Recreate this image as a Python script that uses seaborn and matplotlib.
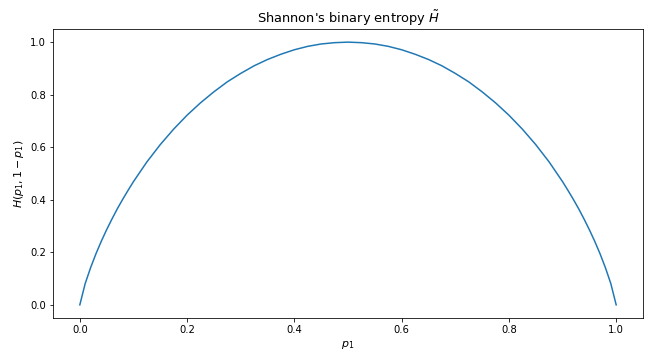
import matplotlib
matplotlib.use("Agg")
import matplotlib.pyplot as plt
import seaborn as sns
import pandas as pd

p1_left = [0.0, 0.01, 0.02, 0.03, 0.04, 0.05, 0.06, 0.07, 0.08, 0.09, 0.1, 0.125, 0.15, 0.175, 0.2,
           0.225, 0.25, 0.275, 0.3, 0.325, 0.35, 0.375, 0.4, 0.425, 0.45, 0.475]
h_left = [0.0, 0.081, 0.141, 0.194, 0.242, 0.286, 0.327, 0.366, 0.402, 0.436, 0.469, 0.544, 0.610, 0.669, 0.722,
          0.769, 0.811, 0.849, 0.881, 0.910, 0.934, 0.954, 0.971, 0.984, 0.993, 0.998]
p1_mid = [0.5]
h_mid = [1.0]

p1_values = p1_left + p1_mid + [round(1 - p, 3) for p in reversed(p1_left)]
h_values = h_left + h_mid + list(reversed(h_left))

df = pd.DataFrame({"p1": p1_values, "H": h_values})

fig = plt.figure(figsize=(646 / 72, 352 / 72), dpi=72)
ax = fig.add_axes([53 / 646, 1 - 318 / 352, (643 - 53) / 646, (318 - 29) / 352])
sns.lineplot(data=df, x="p1", y="H", ax=ax, color="#1f77b4", linewidth=1.5, sort=False)
ax.set_title(r"Shannon's binary entropy $\tilde{H}$", fontsize=13)
ax.set_xlabel(r"$p_1$", fontsize=11)
ax.set_ylabel(r"$H(p_1, 1-p_1)$", fontsize=11)
ax.tick_params(labelsize=10)
ax.set_xlim(-0.05, 1.05)
ax.set_ylim(-0.05, 1.05)
fig.savefig("out.png", dpi=72)
